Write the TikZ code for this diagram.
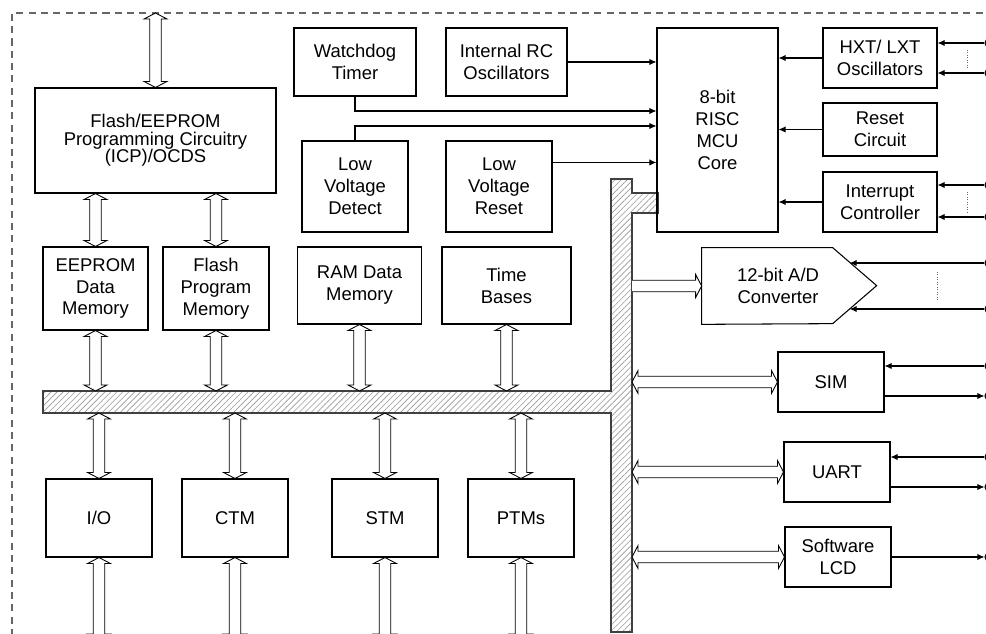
\documentclass[tikz,border=0pt]{standalone}
\usepackage{fontspec}
\setmainfont{Liberation Sans}
\usetikzlibrary{arrows.meta}
\usetikzlibrary{calc}
\usetikzlibrary{patterns.meta}

\def\bsw{3.3pt}
\def\bhw{6.5pt}
\def\bhl{3.4pt}
% hollow bus arrows
\newcommand{\vbus}[2]{%
    \draw[busarrow] let \p1=#1, \p2=#2 in
        (\x1,\y1) -- (\x1+\bhw,\y1-\bhl) -- (\x1+\bsw,\y1-\bhl) -- (\x1+\bsw,\y2+\bhl)
        -- (\x1+\bhw,\y2+\bhl) -- (\x1,\y2) -- (\x1-\bhw,\y2+\bhl) -- (\x1-\bsw,\y2+\bhl)
        -- (\x1-\bsw,\y1-\bhl) -- (\x1-\bhw,\y1-\bhl) -- cycle;}
\newcommand{\hbus}[2]{%
    \draw[busarrow] let \p1=#1, \p2=#2 in
        (\x1,\y1) -- (\x1+\bhl,\y1+\bhw) -- (\x1+\bhl,\y1+\bsw) -- (\x2-\bhl,\y1+\bsw)
        -- (\x2-\bhl,\y1+\bhw) -- (\x2,\y1) -- (\x2-\bhl,\y1-\bhw) -- (\x2-\bhl,\y1-\bsw)
        -- (\x1+\bhl,\y1-\bsw) -- (\x1+\bhl,\y1-\bhw) -- cycle;}
\newcommand{\hbusone}[2]{%
    \draw[busarrow] let \p1=#1, \p2=#2 in
        (\x1,\y1+\bsw) -- (\x2-\bhl,\y1+\bsw) -- (\x2-\bhl,\y1+\bhw) -- (\x2,\y1)
        -- (\x2-\bhl,\y1-\bhw) -- (\x2-\bhl,\y1-\bsw) -- (\x1,\y1-\bsw);}

\begin{document}
\begin{tikzpicture}[x=0.02cm, y=-0.02cm,
    font=\fontsize{10.5}{12.5}\selectfont,
    wh/.style 2 args={minimum width=#1*0.02cm, minimum height=#2*0.02cm},
    block/.style={draw, line width=0.6pt, align=center, inner sep=0pt},
    sig/.style={line width=0.6pt, -{Latex[length=4pt,width=3.6pt]}},
    busarrow/.style={draw, fill=white, line width=0.5pt},
    busline/.style={draw=black!75, line width=0.6pt,
        pattern={Lines[angle=45,distance=2.4pt,line width=0.35pt]}, pattern color=black!40},
    pad/.style={circle, draw, line width=0.6pt, inner sep=0pt, minimum size=4.6pt},
    chipedge/.style={dash pattern=on 4pt off 3pt, line width=0.6pt, black!60},
    gapmark/.style={densely dotted, line width=0.4pt, black!60}]

    \useasboundingbox (0,0) rectangle (986,634);
    \coordinate (chiptop) at (0,13);
    \coordinate (chipbot) at (0,640);
    \coordinate (bustop) at (0,391);
    \coordinate (busbot) at (0,413);
    \coordinate (busedge) at (632,0);

    \draw[chipedge] (995,13) -| (12,640);

    \draw[busline] (43,391) -- (611,391) -- (611,179) -- (632,179) -- (632,193)
        -- (658,193) -- (658,213) -- (632,213) -- (632,632) -- (611,632)
        -- (611,413) -- (43,413) -- cycle;

    \node[block, wh={241}{105}, font=\fontsize{10.5}{10}\selectfont] (flash) at (155.5,140.5)
        {Flash/EEPROM\\Programming Circuitry\\(ICP)/OCDS};
    \node[block, wh={105}{83}] (eep) at (95.5,288.5) {EEPROM\\Data\\Memory};
    \node[block, wh={106}{83}] (fprog) at (216,288.5) {Flash\\Program\\Memory};
    \node[block, wh={124}{77}] (ram) at (359.5,285.5) {RAM Data\\Memory};
    \node[block, wh={129}{77}] (tb) at (506.5,285.5) {Time\\Bases};

    \node[block, wh={122}{68}] (wdt) at (355,62) {Watchdog\\Timer};
    \node[block, wh={121}{68}] (rc) at (506.5,62) {Internal RC\\Oscillators};
    \node[block, wh={106}{91}] (lvd) at (355,186.5) {Low\\Voltage\\Detect};
    \node[block, wh={106}{91}] (lvr) at (499,186.5) {Low\\Voltage\\Reset};
    \node[block, wh={121}{204}] (core) at (717.5,130) {8-bit\\RISC\\MCU\\Core};

    \node[block, wh={114}{60}] (hxt) at (880,58) {HXT/ LXT\\Oscillators};
    \node[block, wh={114}{53}] (rst) at (880,129.5) {Reset\\Circuit};
    \node[block, wh={114}{60}] (intc) at (880,202) {Interrupt\\Controller};

    \node[align=center, inner sep=0pt, wh={152}{76}] (adc) at (778,286) {12-bit A/D\\Converter};
    \draw[line width=0.6pt] (adc.north west) -- ++(131,0) -- ++(44,38) -- ++(-44,38)
        -- (adc.south west) -- cycle;
    \coordinate (adcslant) at ($(adc.north west)+(148,0)$);
    \node[block, wh={106}{60}] (sim) at (831,382) {SIM};
    \node[block, wh={106}{60}] (uart) at (837,472) {UART};
    \node[block, wh={106}{60}] (lcd) at (838,557) {Software\\LCD};

    \node[block, wh={106}{78}] (io) at (99,518) {I/O};
    \node[block, wh={106}{78}] (ctm) at (235,518) {CTM};
    \node[block, wh={106}{78}] (stm) at (385,518) {STM};
    \node[block, wh={106}{78}] (ptm) at (521,518) {PTMs};

    \node[pad] (hxtA) at (989,43) {};
    \node[pad] (hxtB) at (989,73) {};
    \node[pad] (intA) at (989,185) {};
    \node[pad] (intB) at (989,217) {};
    \node[pad] (adcA) at (989,263) {};
    \node[pad] (adcB) at (989,309) {};
    \node[pad] (simA) at (989,366) {};
    \node[pad] (simB) at (989,396) {};
    \node[pad] (uartA) at (989,457) {};
    \node[pad] (uartB) at (989,487) {};
    \node[pad] (lcdA) at (989,557) {};

    % core signals
    \coordinate (lvrout) at ($(lvr.north east)+(0,22)$);
    \draw[sig] (rc.east) -- (rc.east -| core.west);
    \draw[sig] (wdt.south) |- ($(core.west)+(0,-19)$);
    \draw[sig] (lvd.north) |- ($(core.west)+(0,-4)$);
    \draw[sig] (lvrout) -- (lvrout -| core.west);
    \foreach \b in {hxt,rst,intc} {
        \draw[sig] (\b.west) -- (\b.west -| core.east);
    }

    % pins
    \foreach \p/\b in {hxtA/hxt,hxtB/hxt,intA/intc,intB/intc,simA/sim,uartA/uart} {
        \draw[sig] (\p.west) -- (\p -| \b.east);
    }
    \foreach \p in {adcA,adcB} {
        \draw[sig] (\p.west) -- (\p -| adcslant);
    }
    \foreach \p/\b in {simB/sim,uartB/uart,lcdA/lcd} {
        \draw[sig] (\p -| \b.east) -- (\p.west);
    }
    \draw[gapmark] (967,50) -- (967,68);
    \draw[gapmark] (967,192) -- (967,212);
    \draw[gapmark] (937,272) -- (937,301);

    % buses
    \vbus{(flash.north |- chiptop)}{(flash.north)}
    \vbus{(eep.north |- flash.south)}{(eep.north)}
    \vbus{(fprog.north |- flash.south)}{(fprog.north)}
    \foreach \b in {eep,fprog,ram,tb} {
        \vbus{(\b.south)}{(\b.south |- bustop)}
    }
    \foreach \b in {io,ctm,stm,ptm} {
        \vbus{(\b.north |- busbot)}{(\b.north)}
        \vbus{(\b.south)}{(\b.south |- chipbot)}
    }
    \hbusone{(adc.west -| busedge)}{(adc.west)}
    \foreach \b in {sim,uart,lcd} {
        \hbus{(\b.west -| busedge)}{(\b.west)}
    }
\end{tikzpicture}
\end{document}
